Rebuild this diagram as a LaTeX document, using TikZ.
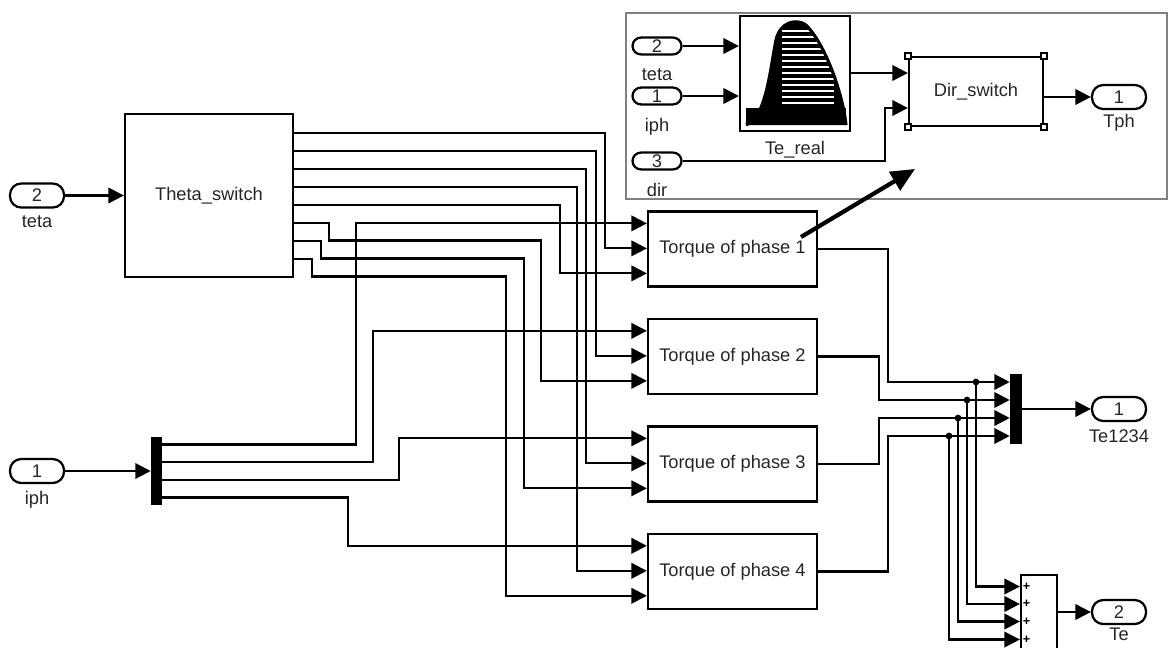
\documentclass[tikz,border=0pt]{standalone}
\usepackage{fontspec}
\setmainfont{Liberation Sans}
\usetikzlibrary{arrows.meta, positioning, calc}
\newcommand{\blkfont}{\fontsize{13}{15}\selectfont}
\tikzset{
    block/.style={rectangle, draw, line width=1.6pt, inner sep=0pt, font=\blkfont, text=black!85},
    port/.style={rectangle, draw, rounded corners=8pt, line width=1.6pt, minimum width=1.35cm, minimum height=0.6cm, inner sep=0pt, font=\blkfont, text=black!85},
    sport/.style={port, rounded corners=6pt, minimum width=1.225cm, minimum height=0.42cm},
    lbl/.style={inner sep=1pt, font=\blkfont, text=black!85},
    bar/.style={rectangle, fill=black, inner sep=0pt},
    wire/.style={line width=1.6pt, -{Triangle[length=11pt,width=11pt]}},
    hint/.style={line width=3pt, -{Triangle[length=17pt,width=15pt]}},
}

\begin{document}
\begin{tikzpicture}[x=0.025cm, y=-0.025cm, node distance=0.755cm]
    \clip (0,0) rectangle (1171,647);

    % main blocks
    \node[block, minimum width=4.2cm, minimum height=4.075cm] (theta) at (209,195.5) {Theta\_switch};

    \node[block, minimum width=4.225cm, minimum height=1.875cm] (t1) at (732.5,249) {Torque of phase 1};
    \node[block, minimum width=4.225cm, minimum height=1.875cm, below=of t1] (t2) {Torque of phase 2};
    \node[block, minimum width=4.225cm, minimum height=1.875cm, below=of t2] (t3) {Torque of phase 3};
    \node[block, minimum width=4.225cm, minimum height=1.875cm, below=of t3] (t4) {Torque of phase 4};

    \node[bar, minimum width=0.275cm, minimum height=1.7cm] (dmx) at (156.5,471) {};
    \node[bar, minimum width=0.3cm, minimum height=1.75cm] (mx) at (1016,409) {};
    \node[block, minimum width=0.9cm, minimum height=1.9cm] (sm) at (1039,613) {};

    % ports
    \node[port] (pteta) at (37,195.5) {2};
    \node[lbl, below=4pt of pteta] (lteta) {teta};
    \node[port] (piph) at (37,471) {1};
    \node[lbl, below=4pt of piph] (liph) {iph};
    \node[port] (pte1) at (1119,409) {1};
    \node[lbl, below=4pt of pte1] (lte1) {Te1234};
    \node[port] (pte2) at (1119,612) {2};
    \node[lbl, below=0.5pt of pte2] (lte2) {Te};

    % inset: inside of a torque block
    \draw[gray, line width=0.8pt] (626,13) rectangle (1167,199);
    \node[sport] (iteta) at (657,46) {2};
    \node[lbl, below=8pt of iteta] (liteta) {teta};
    \node[sport] (iiph) at (657,96) {1};
    \node[lbl, below=8pt of iiph] (liiph) {iph};
    \node[sport] (idir) at (657,161) {3};
    \node[lbl, below=8pt of idir] (lidir) {dir};
    \node[block, minimum width=2.75cm, minimum height=2.875cm] (ter) at (795,73.5) {};
    \node[lbl, below=5pt of ter] (lter) {Te\_real};
    \node[block, minimum width=3.35cm, minimum height=1.725cm] (dsw) at (976,91.5) {Dir\_switch};
    \node[port] (itph) at (1119,97) {1};
    \node[lbl, below=2pt of itph] (litph) {Tph};

    % lookup table icon
    \fill (746,125) .. controls (766,118) and (770,70) .. (776,40) .. controls (780,22) and (796,18) .. (806,25) .. controls (826,45) and (843,95) .. (846,125) -- cycle;
    \foreach \yy in {31,37,...,103}
        \draw[white, line width=0.8pt] (782,\yy) -- (834,\yy);
    \draw[line width=2.2pt] (746,125) .. controls (766,118) and (770,70) .. (776,40) .. controls (780,22) and (796,18) .. (806,25) .. controls (826,45) and (843,95) .. (846,125);
    \fill (746,108) rectangle (846,125);

    % selection handles
    \foreach \a in {north west, north east, south west, south east}
        \draw[line width=1.2pt, fill=white] ($(dsw.\a)+(-3,-3)$) rectangle ++(6,6);

    \coordinate (dswa) at (dsw.west |- 0,73);
    \coordinate (dswb) at (dsw.west |- 0,108);
    \draw[wire] (iteta.east) -- (ter.west |- iteta);
    \draw[wire] (iiph.east) -- (ter.west |- iiph);
    \draw[wire] (ter.east |- dswa) -- (dswa);
    \draw[wire] (idir.east) -| (885,0 |- dswb) -- (dswb);
    \draw[wire] (dsw.east |- itph) -- (itph);

    % connection points
    \foreach \k/\yk in {1/133, 2/151, 3/169, 4/187, 5/205, 6/223, 7/241, 8/259}
        \coordinate (th\k) at (theta.east |- 0,\yk);
    \foreach \i in {1,...,4}
        \path (t\i.north west) ++(0,13) coordinate (t\i a) ++(0,25) coordinate (t\i b) ++(0,25) coordinate (t\i c);
    \foreach \k/\yk in {a/444.5, b/462, c/480, d/497.5}
        \coordinate (dmx\k) at (dmx.east |- 0,\yk);
    \foreach \k/\yk in {a/382, b/400, c/418, d/436}
        \coordinate (mx\k) at (mx.west |- 0,\yk);
    \foreach \k/\yk in {a/586.5, b/604, c/621.5, d/639.5}
        \coordinate (sm\k) at (sm.west |- 0,\yk);

    % inputs
    \draw[wire] (pteta.east) -- (theta.west |- pteta);
    \draw[wire] (piph.east) -- (dmx.west |- piph);

    % theta_switch to torque blocks
    \foreach \k/\xv/\tgt in {1/605/t1b, 2/596/t2b, 3/586/t3b, 4/577/t4b, 5/560/t1c}
        \draw[wire] (th\k) -| (\xv,0 |- \tgt) -- (\tgt);
    \foreach \k/\xs/\xv/\tgt in {6/329/541/t2c, 7/321/524/t3c, 8/312/506/t4c}
        \draw[wire] (th\k) -- (\xs,0 |- th\k) -- ++(0,17.5) -| (\xv,0 |- \tgt) -- (\tgt);

    % currents to torque blocks
    \foreach \k/\xv/\tgt in {a/356/t1a, b/373/t2a, c/399/t3a, d/348/t4a}
        \draw[wire] (dmx\k) -| (\xv,0 |- \tgt) -- (\tgt);

    % torque blocks to mux
    \foreach \i/\xv/\k in {1/888/a, 2/879/b, 3/879/c, 4/888/d}
        \draw[wire] (t\i.east) -| (\xv,0 |- mx\k) -- (mx\k);

    % branches to sum
    \foreach \k/\xv in {a/976, b/967, c/958, d/949} {
        \coordinate (j\k) at (\xv,0 |- mx\k);
        \fill (j\k) circle (2.4pt);
        \draw[wire] (j\k) |- (sm\k);
        \node[font=\small\bfseries, inner sep=0pt, right=2pt of sm\k] (plus\k) {+};
    }

    \draw[wire] (mx.east) -- (pte1);
    \draw[wire] (sm.east |- pte2) -- (pte2);

    % pointer to inset
    \coordinate (hintfrom) at (801,237);
    \coordinate (hintto) at (915,169);
    \draw[hint] (hintfrom) -- (hintto);
\end{tikzpicture}
\end{document}
